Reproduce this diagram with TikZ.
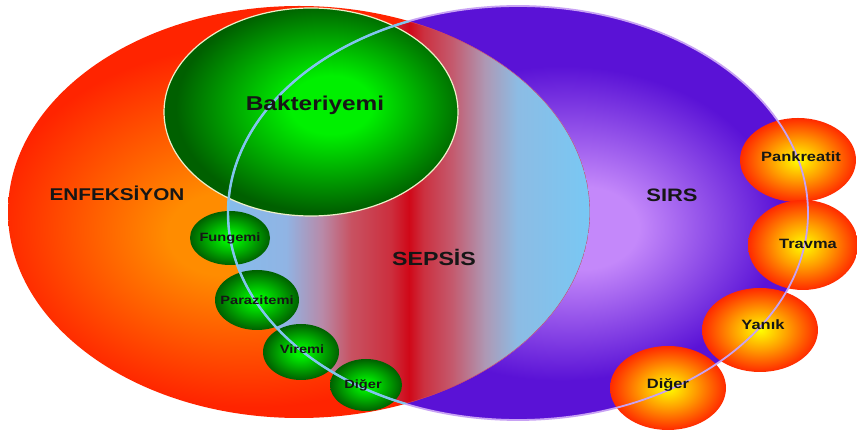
\documentclass[tikz,border=0pt]{standalone}
\usepackage{fontspec}
\newfontfamily\diagfont[FakeStretch=1.22]{Liberation Sans}
\usetikzlibrary{shapes.geometric}

\definecolor{enforange}{HTML}{FF8C00}
\definecolor{enfred}{HTML}{FF2400}
\definecolor{sirslight}{HTML}{C488FA}
\definecolor{sirsdark}{HTML}{5A12D6}
\definecolor{gbright}{HTML}{00F000}
\definecolor{gdark}{HTML}{006000}
\definecolor{oyellow}{HTML}{FFFF00}
\definecolor{oorange}{HTML}{FF9C00}
\definecolor{ored}{HTML}{FF2A00}
\definecolor{sirsedge}{HTML}{C8A2F4}
\definecolor{sepsedge}{HTML}{80C6EE}
\definecolor{enfedge}{HTML}{D04068}
\definecolor{bakedge}{HTML}{EEF0C8}
\definecolor{labelink}{HTML}{161616}

\pgfdeclareradialshading{enfshade}{\pgfpoint{-7bp}{-3bp}}{color(0bp)=(enforange); color(5bp)=(enforange); color(22bp)=(enfred); color(50bp)=(enfred)}
\pgfdeclareradialshading{sirsshade}{\pgfpoint{6bp}{-2bp}}{color(0bp)=(sirslight); color(5bp)=(sirslight); color(19bp)=(sirsdark); color(50bp)=(sirsdark)}
\pgfdeclareradialshading{bakshade}{\pgfpoint{4bp}{2bp}}{color(0bp)=(gbright); color(7bp)=(gbright); color(25bp)=(gdark); color(50bp)=(gdark)}
\pgfdeclareradialshading{greenshade}{\pgfpoint{0bp}{0bp}}{color(0bp)=(gbright); color(4bp)=(gbright); color(25bp)=(gdark); color(50bp)=(gdark)}
\pgfdeclareradialshading{orangeshade}{\pgfpoint{0bp}{0bp}}{color(0bp)=(oyellow); color(12bp)=(oorange); color(25bp)=(ored); color(50bp)=(ored)}
% sepsis band: 25bp = left edge, 75bp = right edge of the overlap
\pgfdeclarehorizontalshading{sepsshade}{100bp}{%
    rgb(0bp)=(0.525,0.737,0.925);
    rgb(25bp)=(0.525,0.737,0.925);
    rgb(33bp)=(0.565,0.706,0.894);
    rgb(38bp)=(0.722,0.541,0.659);
    rgb(42bp)=(0.784,0.322,0.384);
    rgb(47.5bp)=(0.800,0.180,0.240);
    rgb(50bp)=(0.816,0.031,0.094);
    rgb(52bp)=(0.800,0.190,0.250);
    rgb(56bp)=(0.769,0.353,0.431);
    rgb(60.5bp)=(0.682,0.596,0.706);
    rgb(65bp)=(0.549,0.737,0.894);
    rgb(75bp)=(0.471,0.784,0.957);
    rgb(100bp)=(0.471,0.784,0.957)}

\begin{document}
\begin{tikzpicture}[x=1pt,y=1pt,
    enfell/.style={x radius=291, y radius=206},
    sirsell/.style={x radius=290, y radius=207},
    greenball/.style={ellipse, inner sep=0pt, shade, shading=greenshade},
    orangeball/.style={ellipse, inner sep=0pt, shade, shading=orangeshade},
    bigtext/.style={text=labelink, font=\diagfont\bfseries\fontsize{#1}{#1}\selectfont},
    smalltext/.style={text=labelink, font=\diagfont\bfseries\fontsize{12}{12}\selectfont},
    balltext/.style={text=labelink, font=\diagfont\bfseries\fontsize{13.5}{13.5}\selectfont}]
    \fill[white] (0,0) rectangle (857,436);
    \useasboundingbox (0,0) rectangle (857,436);
    \coordinate (enfc)  at (299,224);
    \coordinate (sirsc) at (518,223);
    % the two big sets
    \shade[shading=enfshade]  (enfc)  ellipse [enfell];
    \shade[shading=sirsshade] (sirsc) ellipse [sirsell];
    \begin{scope}
        \clip (enfc)  ellipse [enfell];
        \clip (sirsc) ellipse [sirsell];
        \shade[shading=sepsshade] (228,0) rectangle (590,436);
        \draw[enfedge, line width=0.8] (enfc) ellipse [enfell];
    \end{scope}
    % infections
    \node[ellipse, inner sep=0pt, minimum width=294pt, minimum height=208pt, shade, shading=bakshade, draw=bakedge, line width=1.2] (bakteri) at (311,324) {};
    \node[greenball, minimum width=80pt, minimum height=54pt] (fungemi)  at (230,198) {};
    \node[greenball, minimum width=84pt, minimum height=60pt] (parazit)  at (257,136) {};
    \node[greenball, minimum width=76pt, minimum height=56pt] (viremi)   at (301, 84) {};
    \node[greenball, minimum width=72pt, minimum height=52pt] (digerenf) at (366, 51) {};
    % other causes of SIRS
    \node[orangeball, minimum width=116pt, minimum height=84pt] (pankreatit) at (798,276) {};
    \node[orangeball, minimum width=110pt, minimum height=90pt] (travma)     at (803,191) {};
    \node[orangeball, minimum width=116pt, minimum height=84pt] (yanik)      at (760,106) {};
    \node[orangeball, minimum width=116pt, minimum height=84pt] (digersirs)  at (668, 48) {};
    % outlines
    \draw[sirsedge, line width=1.8] (sirsc) ellipse [sirsell];
    \begin{scope}
        \clip (enfc) ellipse [enfell];
        \draw[sepsedge, line width=2.4] (sirsc) ellipse [sirsell];
    \end{scope}
    % labels
    \node[bigtext=17] (enflabel)  at (117,243) {ENFEKSİYON};
    \node[bigtext=20] (baklabel)  at (315,331) {Bakteriyemi};
    \node[bigtext=19] (sepslabel) at (434,179) {SEPSİS};
    \node[bigtext=18] (sirslabel) at (672,241) {SIRS};
    \node[smalltext] at (fungemi)                   {Fungemi};
    \node[smalltext] at (parazit)                   {Parazitemi};
    \node[smalltext] at ([shift={(1,3)}]viremi)     {Viremi};
    \node[smalltext] at ([shift={(-3,0)}]digerenf)  {Diğer};
    \node[balltext]  at ([shift={(3,3)}]pankreatit) {Pankreatit};
    \node[balltext]  at ([shift={(5,1)}]travma)     {Travma};
    \node[balltext]  at ([shift={(3,5)}]yanik)      {Yanık};
    \node[balltext]  at ([shift={(0,3)}]digersirs)  {Diğer};
\end{tikzpicture}
\end{document}
